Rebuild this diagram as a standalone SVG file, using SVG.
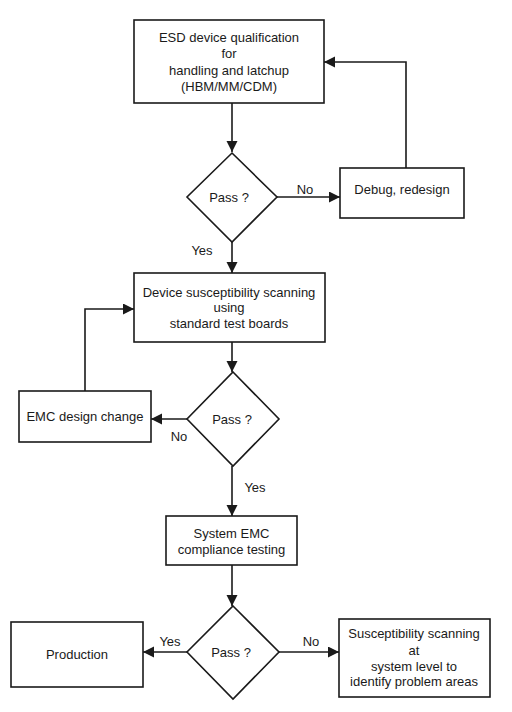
<svg xmlns="http://www.w3.org/2000/svg" width="512" height="712" viewBox="0 0 512 712">
<style>
.n{fill:#fff;stroke:#1a1a1a;stroke-width:1.6}
.t{font-family:"Liberation Sans",Arial,sans-serif;font-size:13px;fill:#1a1a1a;text-anchor:middle}
.c{fill:none;stroke:#1a1a1a;stroke-width:1.6}
</style>
<defs>
<marker id="ah" markerUnits="userSpaceOnUse" markerWidth="12" markerHeight="12" refX="11" refY="5.5" orient="auto">
<path d="M0,0 L11,5.5 L0,11 z" fill="#1a1a1a"/>
</marker>
</defs>
<rect width="512" height="712" fill="#fff"/>
<g id="connectors">
<path class="c" d="M232,103 V152" marker-end="url(#ah)"/>
<path class="c" d="M277,197 H340" marker-end="url(#ah)"/>
<path class="c" d="M406,168 V62 H324" marker-end="url(#ah)"/>
<path class="c" d="M232,242 V273" marker-end="url(#ah)"/>
<path class="c" d="M232,342 V372" marker-end="url(#ah)"/>
<path class="c" d="M187,419 H151" marker-end="url(#ah)"/>
<path class="c" d="M85,391 V309 H134" marker-end="url(#ah)"/>
<path class="c" d="M232,466 V516" marker-end="url(#ah)"/>
<path class="c" d="M232,565 V606" marker-end="url(#ah)"/>
<path class="c" d="M187,652 H143" marker-end="url(#ah)"/>
<path class="c" d="M279,652 H339" marker-end="url(#ah)"/>
<text class="t" x="305" y="194">No</text>
<text class="t" x="202" y="255">Yes</text>
<text class="t" x="179" y="441">No</text>
<text class="t" x="255" y="492">Yes</text>
<text class="t" x="170" y="646">Yes</text>
<text class="t" x="311" y="646">No</text>
</g>
<g id="esd">
<rect class="n" x="134" y="20" width="190" height="83"/>
<text class="t" x="229" y="42">ESD device qualification</text>
<text class="t" x="229" y="58">for</text>
<text class="t" x="229" y="75">handling and latchup</text>
<text class="t" x="229" y="91">(HBM/MM/CDM)</text>
</g>
<g id="pass1">
<polygon class="n" points="232,153 277,197 232,242 187,197"/>
<text class="t" x="229" y="202">Pass ?</text>
</g>
<g id="debug">
<rect class="n" x="340" y="168" width="124" height="50"/>
<text class="t" x="402" y="194">Debug, redesign</text>
</g>
<g id="scan">
<rect class="n" x="134" y="273" width="191" height="69"/>
<text class="t" x="229" y="297">Device susceptibility scanning</text>
<text class="t" x="229" y="312">using</text>
<text class="t" x="229" y="328">standard test boards</text>
</g>
<g id="pass2">
<polygon class="n" points="233,372 279,419 233,466 187,419"/>
<text class="t" x="232" y="424">Pass ?</text>
</g>
<g id="emc">
<rect class="n" x="19" y="391" width="132" height="51"/>
<text class="t" x="85" y="421">EMC design change</text>
</g>
<g id="system">
<rect class="n" x="166" y="516" width="131" height="49"/>
<text class="t" x="231.5" y="538">System EMC</text>
<text class="t" x="231.5" y="554">compliance testing</text>
</g>
<g id="pass3">
<polygon class="n" points="233,606 279,652 233,699 187,652"/>
<text class="t" x="231" y="657">Pass ?</text>
</g>
<g id="production">
<rect class="n" x="11" y="622" width="132" height="65"/>
<text class="t" x="77" y="659">Production</text>
</g>
<g id="sysscan">
<rect class="n" x="339" y="619" width="151" height="78"/>
<text class="t" x="414" y="638">Susceptibility scanning</text>
<text class="t" x="414" y="655">at</text>
<text class="t" x="414" y="671">system level to</text>
<text class="t" x="414" y="686">identify problem areas</text>
</g>
</svg>
